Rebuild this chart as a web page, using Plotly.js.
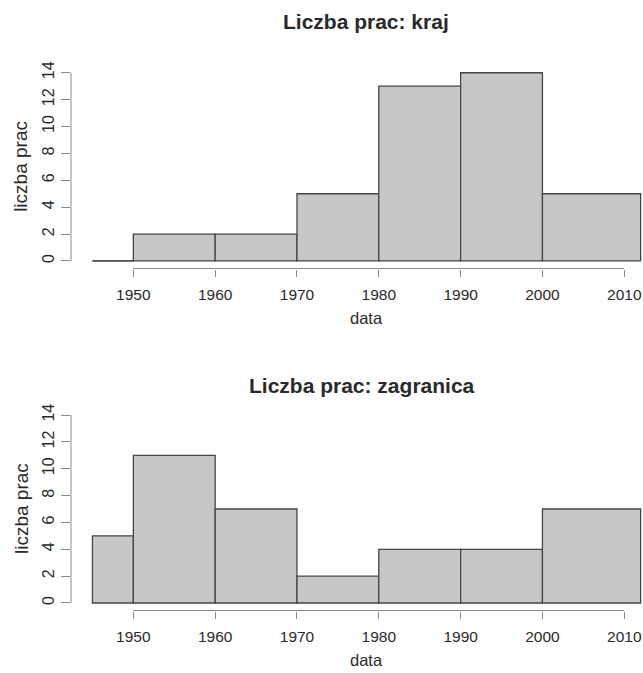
<!DOCTYPE html>
<html><head><meta charset="utf-8">
<script src="https://cdn.plot.ly/plotly-3.0.1.min.js"></script>
<style>body{margin:0;background:#fff}</style>
</head><body><div id="chart" style="width:643px;height:673px"></div>
<script>
const binEdges = [1945, 1950, 1960, 1970, 1980, 1990, 2000, 2012];
const countsKraj = [0, 2, 2, 5, 13, 14, 5];
const countsZagranica = [5, 11, 7, 2, 4, 4, 7];
const xTickVals = [1950, 1960, 1970, 1980, 1990, 2000, 2010];
const yTickVals = [0, 2, 4, 6, 8, 10, 12, 14];
const panelTitles = ["Liczba prac: kraj", "Liczba prac: zagranica"];
const xLabel = "data";
const yLabel = "liczba prac";

const W = 643, H = 673, L = 71;
const fill = "rgb(198,199,201)", edge = "#454545", axisCol = "#8a8a8a", textCol = "#2a2a2a";
const sans = "Liberation Sans, Arial, sans-serif";

function histTraces(counts, xa, ya) {
  const mids = [], widths = [];
  for (let i = 0; i < counts.length; i++) {
    mids.push((binEdges[i] + binEdges[i + 1]) / 2);
    widths.push(binEdges[i + 1] - binEdges[i]);
  }
  const out = [{
    type: "bar", x: mids, y: counts, width: widths, xaxis: xa, yaxis: ya,
    marker: {color: fill, line: {color: edge, width: 1.3}}, hoverinfo: "x+y", showlegend: false
  }];
  counts.forEach((c, i) => {
    if (c === 0) out.push({
      type: "scatter", mode: "lines", x: [binEdges[i], binEdges[i + 1]], y: [0, 0],
      xaxis: xa, yaxis: ya, line: {color: edge, width: 1.3}, showlegend: false, hoverinfo: "skip"
    });
  });
  return out;
}

const data = [...histTraces(countsKraj, "x", "y"), ...histTraces(countsZagranica, "x2", "y2")];

function px2x(p) { return (p - L) / (W - L); }
function py2y(p) { return 1 - p / H; }

const topDom = [py2y(268.5), py2y(65.2)];
const botDom = [py2y(610.5), py2y(407.5)];
const xRange = [1942.38, 2012.29];

function xAxis(anchor) {
  return {
    domain: [0, 1], range: xRange, anchor: anchor, tickvals: xTickVals,
    ticks: "outside", ticklen: 7, tickwidth: 1, tickcolor: axisCol, ticklabelstandoff: 5,
    ticklabeloverflow: "allow",
    showline: false, showgrid: false, zeroline: false,
    tickfont: {family: sans, size: 15.5, color: textCol}
  };
}
function yAxis(dom, anchor) {
  return {
    domain: dom, range: [-0.56, 14.56], anchor: anchor, tickvals: yTickVals,
    ticks: "outside", ticklen: 9, tickwidth: 1, tickcolor: axisCol, tickangle: -90,
    ticklabelstandoff: 1,
    showline: false, showgrid: false, zeroline: false,
    tickfont: {family: sans, size: 16, color: textCol}
  };
}

const shapes = [];
[["x", "y"], ["x2", "y2"]].forEach(([xa, ya]) => {
  shapes.push({type: "line", xref: xa, x0: xTickVals[0], x1: xTickVals[xTickVals.length - 1],
    yref: ya + " domain", y0: 0, y1: 0, line: {color: axisCol, width: 1}});
  shapes.push({type: "line", xref: xa + " domain", x0: 0, x1: 0,
    yref: ya, y0: yTickVals[0], y1: yTickVals[yTickVals.length - 1], line: {color: axisCol, width: 1}});
});

const annotations = [
  {text: "<b>" + panelTitles[0] + "</b>", xref: "paper", yref: "paper", x: px2x(366), y: py2y(22),
    showarrow: false, xanchor: "center", yanchor: "middle", font: {family: sans, size: 21, color: textCol}},
  {text: "<b>" + panelTitles[1] + "</b>", xref: "paper", yref: "paper", x: px2x(362), y: py2y(385),
    showarrow: false, xanchor: "center", yanchor: "middle", font: {family: sans, size: 21, color: textCol}},
  {text: xLabel, xref: "paper", yref: "paper", x: px2x(366), y: py2y(318),
    showarrow: false, xanchor: "center", yanchor: "middle", font: {family: sans, size: 16.5, color: textCol}},
  {text: xLabel, xref: "paper", yref: "paper", x: px2x(366), y: py2y(660),
    showarrow: false, xanchor: "center", yanchor: "middle", font: {family: sans, size: 16.5, color: textCol}},
  {text: yLabel, xref: "paper", yref: "paper", x: px2x(21), y: (topDom[0] + topDom[1]) / 2, textangle: -90,
    showarrow: false, xanchor: "center", yanchor: "middle", font: {family: sans, size: 19, color: textCol}},
  {text: yLabel, xref: "paper", yref: "paper", x: px2x(21), y: (botDom[0] + botDom[1]) / 2, textangle: -90,
    showarrow: false, xanchor: "center", yanchor: "middle", font: {family: sans, size: 19, color: textCol}}
];

const layout = {
  width: W, height: H, margin: {l: L, r: 0, t: 0, b: 0, pad: 0},
  paper_bgcolor: "#fff", plot_bgcolor: "#fff", showlegend: false, bargap: 0,
  xaxis: xAxis("y"), yaxis: yAxis(topDom, "x"),
  xaxis2: xAxis("y2"), yaxis2: yAxis(botDom, "x2"),
  shapes: shapes, annotations: annotations
};

Plotly.newPlot("chart", data, layout, {displayModeBar: false, staticPlot: true});
</script>
</body></html>
